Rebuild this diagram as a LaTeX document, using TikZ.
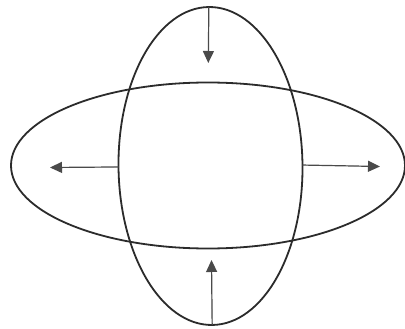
\documentclass[tikz,border=0pt]{standalone}
\usetikzlibrary{shapes.geometric,arrows.meta}
\definecolor{inkdark}{HTML}{2B2B2B}
\definecolor{inkarrow}{HTML}{4A4A4A}
\tikzset{
  oval/.style={draw=inkdark, line width=1.8pt, ellipse, inner sep=0pt, outer sep=0pt},
  push/.style={draw=inkarrow, line width=1.2pt, -{Triangle[length=12pt,width=11pt]}, fill=inkarrow}
}
\begin{document}
\begin{tikzpicture}[x=1pt,y=-1pt]
\useasboundingbox[fill=white] (0,0) rectangle (405,329);
\node[oval, minimum width=394pt, minimum height=166pt] (h) at (208,165.5) {};
\node[oval, minimum width=184pt, minimum height=318pt, rotate=0.6] (v) at (210.5,166) {};
\coordinate (tdown) at (208.3,63);
\coordinate (tup) at (211.5,260);
\coordinate (tleft) at (50,167.5);
\coordinate (tright) at (380,166.5);
\draw[push] (v.north) -- (tdown);
\draw[push] (v.south) -- (tup);
\draw[push] (v.west) -- (tleft);
\draw[push] (v.east) -- (tright);
\end{tikzpicture}
\end{document}
